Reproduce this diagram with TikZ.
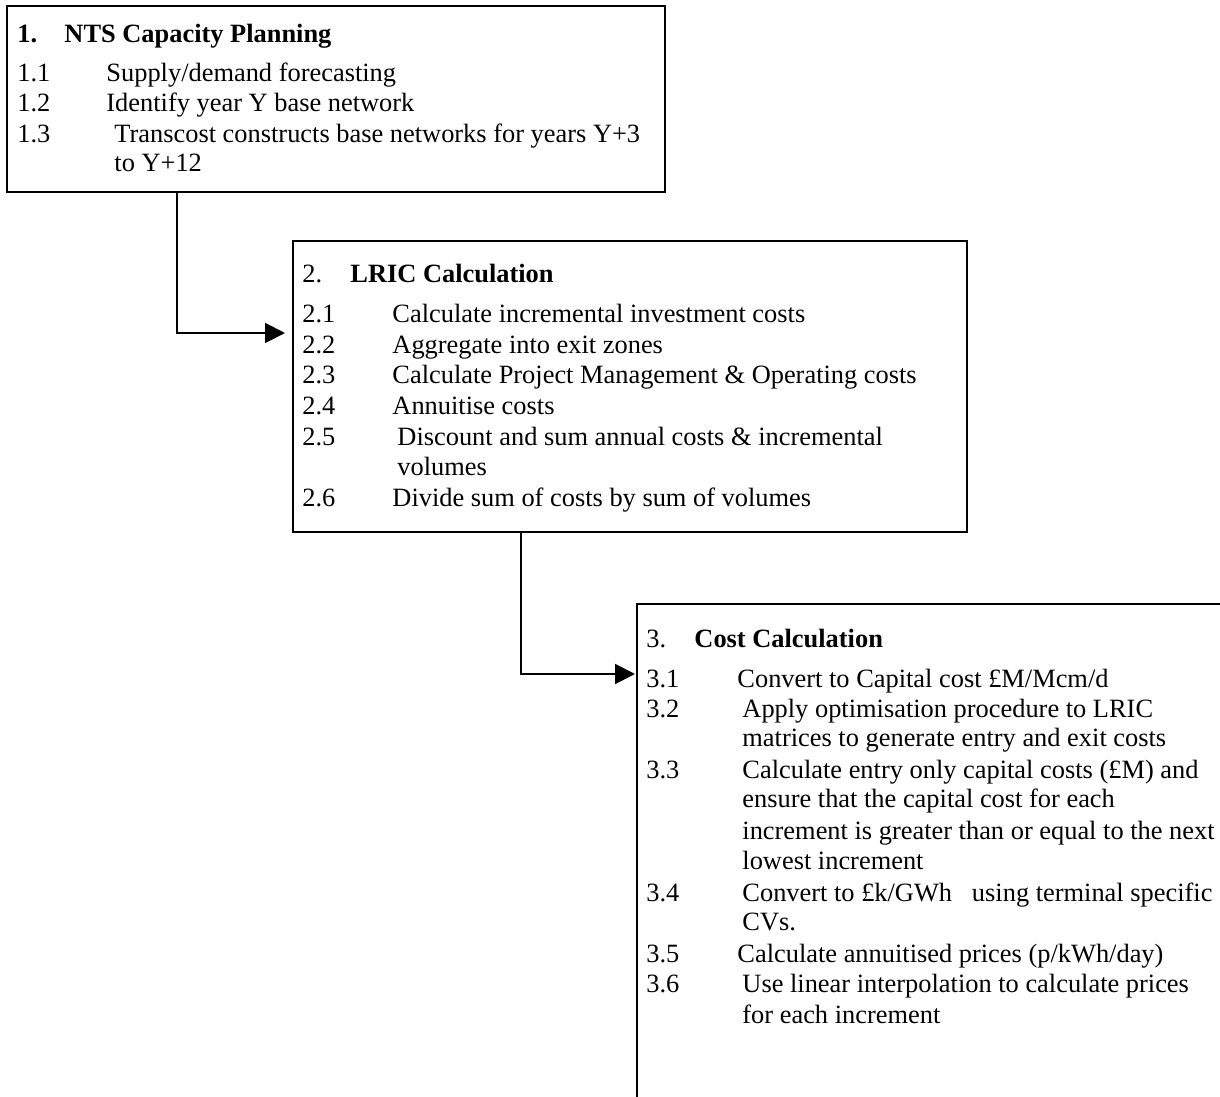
\documentclass[tikz,border=0pt]{standalone}
\usepackage{fontspec}
\setmainfont{Liberation Serif}
\usepackage{tikz}
\usetikzlibrary{arrows.meta,positioning}

\newcommand{\txtsize}{\fontsize{12}{13.8}\selectfont}

\tikzset{
  box/.style={draw, line width=0.9pt, rectangle, inner sep=0pt},
  num/.style={anchor=base west, inner sep=0pt},
  item/.style={anchor=base west, inner sep=0pt},
  head/.style={anchor=base west, inner sep=0pt, font=\txtsize\bfseries},
  flow/.style={line width=0.9pt, ->}
}

\begin{document}
\begin{tikzpicture}[x=0.4545pt, y=-0.4545pt, >={Triangle[length=9pt,width=9pt]}, font=\txtsize]
  \useasboundingbox (0,0) rectangle (1220,1097);
  \clip (0,0) rectangle (1220,1097);

  % boxes
  \node[box, minimum width=299.1pt, minimum height=84.5pt] (box1) at (336,99) {};
  \node[box, minimum width=306.3pt, minimum height=132.3pt] (box2) at (630,386.5) {};
  \node[box, minimum width=283.2pt, minimum height=243.6pt] (box3) at (948.5,872) {};

  % 1. NTS Capacity Planning
  \node[head] (h1n) at (17,43) {1.};
  \node[head] (h1) at (64,43) {NTS Capacity Planning};
  \node[num] (n11) at (17,82) {1.1};
  \node[item] (t11) at (106,82) {Supply/demand forecasting};
  \node[num] (n12) at (17,112) {1.2};
  \node[item] (t12) at (106,112) {Identify year Y base network};
  \node[num] (n13) at (17,143) {1.3};
  \node[item] (t13) at (114,143) {Transcost constructs base networks for years Y+3};
  \node[item] (t13b) at (114,172) {to Y+12};

  % 2. LRIC Calculation
  \node[num] (h2n) at (302,283) {2.};
  \node[head] (h2) at (350,283) {LRIC Calculation};
  \node[num] (n21) at (302,323) {2.1};
  \node[item] (t21) at (392,323) {Calculate incremental investment costs};
  \node[num] (n22) at (302,354) {2.2};
  \node[item] (t22) at (392,354) {Aggregate into exit zones};
  \node[num] (n23) at (302,384) {2.3};
  \node[item] (t23) at (392,384) {Calculate Project Management \& Operating costs};
  \node[num] (n24) at (302,415) {2.4};
  \node[item] (t24) at (392,415) {Annuitise costs};
  \node[num] (n25) at (302,446) {2.5};
  \node[item] (t25) at (397,446) {Discount and sum annual costs \& incremental};
  \node[item] (t25b) at (397,476) {volumes};
  \node[num] (n26) at (302,507) {2.6};
  \node[item] (t26) at (392,507) {Divide sum of costs by sum of volumes};

  % 3. Cost Calculation
  \node[num] (h3n) at (646,647) {3.};
  \node[head] (h3) at (694,647) {Cost Calculation};
  \node[num] (n31) at (646,687) {3.1};
  \node[item] (t31) at (737,687) {Convert to Capital cost £M/Mcm/d};
  \node[num] (n32) at (646,717) {3.2};
  \node[item] (t32) at (742,717) {Apply optimisation procedure to LRIC};
  \node[item] (t32b) at (742,747) {matrices to generate entry and exit costs};
  \node[num] (n33) at (646,778) {3.3};
  \node[item] (t33) at (742,778) {Calculate entry only capital costs (£M) and};
  \node[item] (t33b) at (742,808) {ensure that the capital cost for each};
  \node[item] (t33c) at (742,839) {increment is greater than or equal to the next};
  \node[item] (t33d) at (742,869) {lowest increment};
  \node[num] (n34) at (646,901) {3.4};
  \node[item] (t34) at (742,901) {Convert to £k/GWh\hspace{0.5em} using terminal specific};
  \node[item] (t34b) at (742,930) {CVs.};
  \node[num] (n35) at (646,962) {3.5};
  \node[item] (t35) at (737,962) {Calculate annuitised prices (p/kWh/day)};
  \node[num] (n36) at (646,992) {3.6};
  \node[item] (t36) at (742,992) {Use linear interpolation to calculate prices};
  \node[item] (t36b) at (742,1023) {for each increment};

  % connectors
  \coordinate (k1) at (177,333);
  \coordinate (a1) at (285,333);
  \coordinate (k2) at (521,674);
  \coordinate (a2) at (635,674);
  \draw[flow] (k1 |- box1.south) -- (k1) -- (a1);
  \draw[flow] (k2 |- box2.south) -- (k2) -- (a2);
\end{tikzpicture}
\end{document}
